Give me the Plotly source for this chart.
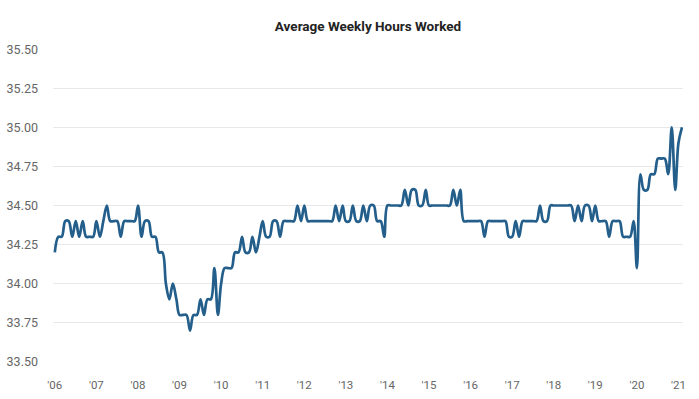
import pandas as pd
import plotly.graph_objects as go

# Monthly average weekly hours, Mar 2006 .. Apr 2021
hours = [
    34.2, 34.3, 34.3, 34.4, 34.4, 34.3, 34.4, 34.3, 34.4, 34.3, 34.3, 34.3,  # '06
    34.4, 34.3, 34.4, 34.5, 34.4, 34.4, 34.4, 34.3, 34.4, 34.4, 34.4, 34.4,  # '07
    34.5, 34.3, 34.4, 34.4, 34.3, 34.3, 34.2, 34.2, 34.0, 33.9, 34.0, 33.9,  # '08
    33.8, 33.8, 33.8, 33.7, 33.8, 33.8, 33.9, 33.8, 33.9, 33.9, 34.1, 33.8,  # '09
    34.0, 34.1, 34.1, 34.1, 34.2, 34.2, 34.3, 34.2, 34.2, 34.3, 34.2, 34.3,  # '10
    34.4, 34.3, 34.3, 34.4, 34.4, 34.3, 34.4, 34.4, 34.4, 34.4, 34.5, 34.4,  # '11
    34.5, 34.4, 34.4, 34.4, 34.4, 34.4, 34.4, 34.4, 34.4, 34.5, 34.4, 34.5,  # '12
    34.4, 34.4, 34.5, 34.4, 34.4, 34.5, 34.4, 34.5, 34.5, 34.4, 34.4, 34.3,  # '13
    34.5, 34.5, 34.5, 34.5, 34.5, 34.6, 34.5, 34.6, 34.6, 34.5, 34.5, 34.6,  # '14
    34.5, 34.5, 34.5, 34.5, 34.5, 34.5, 34.5, 34.6, 34.5, 34.6, 34.4, 34.4,  # '15
    34.4, 34.4, 34.4, 34.4, 34.3, 34.4, 34.4, 34.4, 34.4, 34.4, 34.4, 34.3,  # '16
    34.3, 34.4, 34.3, 34.4, 34.4, 34.4, 34.4, 34.4, 34.5, 34.4, 34.4, 34.5,  # '17
    34.5, 34.5, 34.5, 34.5, 34.5, 34.5, 34.4, 34.5, 34.4, 34.5, 34.5, 34.4,  # '18
    34.5, 34.4, 34.4, 34.4, 34.3, 34.4, 34.4, 34.4, 34.3, 34.3, 34.3, 34.4,  # '19
    34.1, 34.7, 34.6, 34.6, 34.7, 34.7, 34.8, 34.8, 34.8, 34.7, 35.0, 34.6,  # '20
    34.9, 35.0,                                                              # '21
]
months = pd.date_range("2006-03-01", periods=len(hours), freq="MS")

tick_years = list(range(2006, 2022))
tick_vals = [f"{y}-03-01" for y in tick_years]
tick_text = [f"'{y % 100:02d}" for y in tick_years]
y_ticks = [33.50, 33.75, 34.00, 34.25, 34.50, 34.75, 35.00, 35.25, 35.50]

FONT = "Roboto, Liberation Sans, sans-serif"

fig = go.Figure(
    go.Scatter(
        x=months,
        y=hours,
        mode="lines",
        line=dict(color="#245f8c", width=2.7, shape="spline", smoothing=1.0),
        hoverinfo="x+y",
    )
)

fig.update_layout(
    width=699,
    height=399,
    margin=dict(l=53, r=16, t=49, b=37, autoexpand=False),
    paper_bgcolor="white",
    plot_bgcolor="white",
    showlegend=False,
    title=dict(
        text="<b>Average Weekly Hours Worked</b>",
        x=0.5,
        xref="paper",
        xanchor="center",
        y=1 - 26 / 399,
        yanchor="middle",
        font=dict(family=FONT, size=13.5, color="#222222"),
    ),
    xaxis=dict(
        range=["2006-02-13", "2021-04-10"],
        tickvals=tick_vals,
        ticktext=tick_text,
        showgrid=False,
        zeroline=False,
        showline=False,
        ticks="",
        automargin=False,
        ticklabelstandoff=14,
        tickfont=dict(family=FONT, size=11.5, color="#666666"),
    ),
    yaxis=dict(
        range=[33.499, 35.501],
        tickvals=y_ticks,
        tickformat=".2f",
        showgrid=True,
        gridcolor="#e8e8e8",
        gridwidth=1,
        zeroline=False,
        showline=False,
        ticks="",
        automargin=False,
        ticklabelstandoff=14,
        tickfont=dict(family=FONT, size=12.5, color="#666666"),
    ),
)

fig.write_html(
    "out.html",
    config={"displayModeBar": False},
    post_script="document.body.style.margin='0px';",
)
